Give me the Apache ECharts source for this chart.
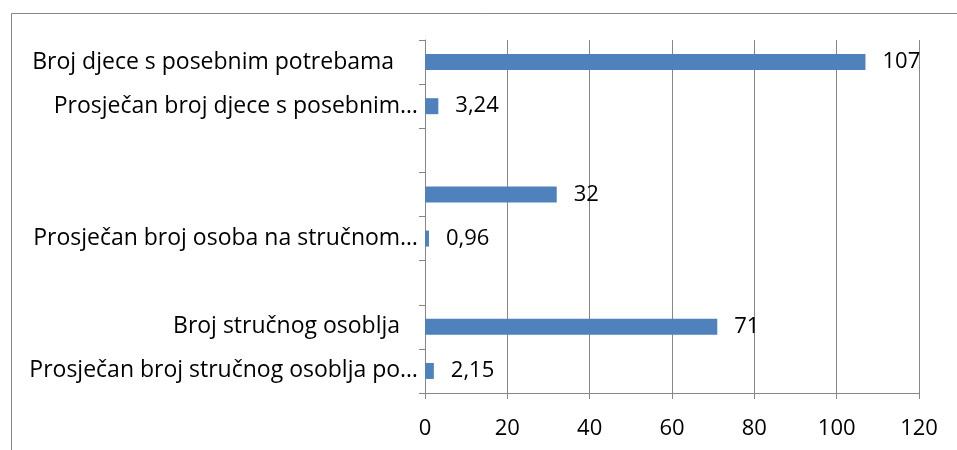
<!DOCTYPE html>
<html>
<head>
<meta charset="utf-8">
<script src="https://cdn.jsdelivr.net/npm/echarts@6/dist/echarts.min.js"></script>
<style>
  html, body { margin: 0; padding: 0; background: #fff; }
  #main { width: 957px; height: 450px; }
</style>
</head>
<body>
<div id="main"></div>
<script>
// trailing spaces keep the shorter labels off the axis, as in the original
var categories = [
    'Broj djece s posebnim potrebama    ',
    'Prosječan broj djece s posebnim…',
    '',
    ' ',
    'Prosječan broj osoba na stručnom…',
    '  ',
    'Broj stručnog osoblja   ',
    'Prosječan broj stručnog osoblja po…'
];
var values = [107, 3.24, null, 32, 0.96, null, 71, 2.15];
var xTicks = [0, 20, 40, 60, 80, 100, 120];

var dom = document.getElementById('main');
var myChart = echarts.init(dom);

var fontName = 'Open Sans';

myChart.setOption({
    animation: false,
    textStyle: { fontFamily: fontName },
    graphic: [{
        type: 'rect',
        left: 9,
        top: 11,
        shape: { width: 1000, height: 500 },
        style: { fill: 'none', stroke: '#868686', lineWidth: 1 }
    }],
    grid: {
        left: 425,
        right: 38,
        top: 40,
        bottom: 57
    },
    xAxis: {
        type: 'value',
        min: xTicks[0],
        max: xTicks[xTicks.length - 1],
        interval: 20,
        axisLine: { show: true, lineStyle: { color: '#868686' } },
        axisTick: { show: true, length: 6, lineStyle: { color: '#868686' } },
        splitLine: { show: true, lineStyle: { color: '#868686' } },
        axisLabel: { color: '#000', fontSize: 22, margin: 25, fontFamily: fontName }
    },
    yAxis: {
        type: 'category',
        inverse: true,
        data: categories,
        axisLine: { show: true, lineStyle: { color: '#868686' } },
        axisTick: { show: true, length: 6, lineStyle: { color: '#868686' } },
        axisLabel: { color: '#000', fontSize: 23, margin: 7, fontFamily: fontName }
    },
    series: [{
        type: 'bar',
        data: values,
        barWidth: 16,
        itemStyle: { color: '#4F81BD' },
        label: {
            show: true,
            position: 'right',
            distance: 17,
            color: '#000',
            fontSize: 22,
            fontFamily: fontName,
            formatter: function (p) {
                return String(p.value).replace('.', ',');
            }
        }
    }]
});
</script>
</body>
</html>
